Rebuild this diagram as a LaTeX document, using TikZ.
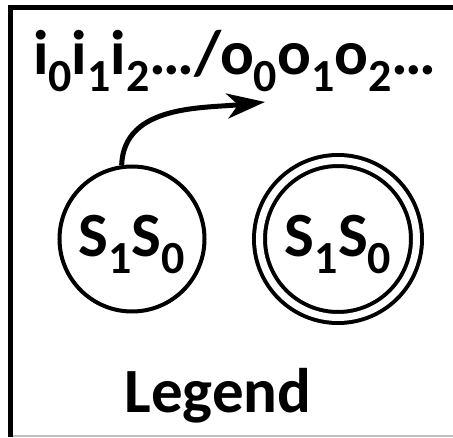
\documentclass[tikz,border=0pt]{standalone}
\usepackage{fontspec}
\setmainfont{Carlito}
\usetikzlibrary{arrows.meta}
\newcommand{\lsub}[1]{\raisebox{-17pt}{\fontsize{46}{46}\selectfont #1}}
\tikzset{
  legtext/.style={font=\fontsize{63}{66}\selectfont\bfseries, inner sep=0pt},
  stnode/.style={draw, circle, line width=4pt, minimum size=145pt, inner sep=0pt,
                 legtext, text depth=7pt},
  acceptnode/.style={stnode, double=white, double distance=7pt, minimum size=157pt},
  frameline/.style={line width=5pt},
  outarrow/.style={line width=5pt, -{Stealth[length=38pt, width=25pt, inset=11pt]}},
}

\begin{document}
\begin{tikzpicture}[x=1pt, y=1pt]
    \useasboundingbox (0,0) rectangle (453,437);
    % frame, cut off at right and bottom
    \draw[frameline] (10.5,0) |- (453,429.5);
    \draw[gray!50, line width=1.5pt] (13,1) -- (453,1);
    \node[legtext, anchor=base west] (io) at (33,362)
      {i\lsub{0}i\lsub{1}i\lsub{2}…/o\lsub{0}o\lsub{1}o\lsub{2}…};
    \node[stnode] (st) at (132,198) {S\lsub{1}S\lsub{0}};
    \node[acceptnode] (acc) at (338,198) {S\lsub{1}S\lsub{0}};
    \coordinate (iotip) at (265,335);
    \draw[outarrow] (st.98) to[out=88, in=186] (iotip);
    \node[legtext, anchor=base] (leg) at (218,25) {Legend};
  \end{tikzpicture}
\end{document}
